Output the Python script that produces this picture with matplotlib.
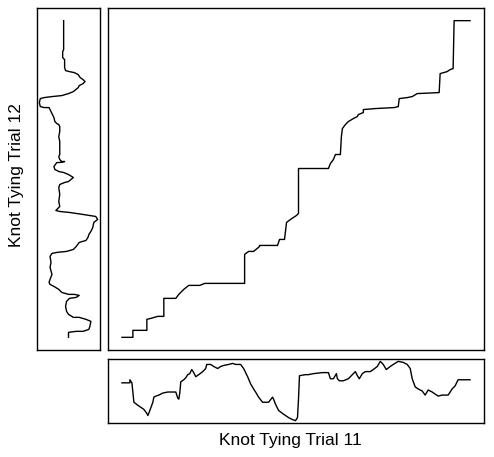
import numpy as np
import matplotlib.pyplot as plt

# Trial 11 signal (sample index, value)
t11_idx = [0, 8, 8, 10, 12, 16, 19, 22, 25, 26, 28, 31, 32, 34, 37, 41, 46, 54, 56, 57,
           58, 59, 62, 64, 66, 68, 70, 72, 74, 77, 81, 84, 85, 89, 92, 96, 99, 102, 107, 111,
           114, 119, 122, 126, 129, 132, 134, 137, 141, 144, 147, 151, 152, 154, 157, 161, 164, 167, 171, 174,
           176, 177, 178, 184, 187, 192, 201, 207, 209, 212, 215, 216, 218, 222, 227, 231, 234, 236, 238, 241,
           244, 249, 252, 256, 259, 262, 265, 269, 272, 277, 282, 286, 289, 291, 294, 297, 301, 304, 307, 311,
           314, 317, 321, 324, 327, 331, 334, 337, 342, 349]
t11_val = [39, 39, 42, 39, 20, 17, 15, 13, 9, 7, 12, 20, 25, 26, 27, 29, 30, 30, 24, 23,
           29, 40, 42, 44, 47, 48, 52, 49, 45, 47, 50, 53, 57, 57, 55, 53, 55, 56, 57, 58,
           57, 57, 53, 45, 38, 33, 30, 25, 20, 20, 20, 25, 23, 18, 12, 9, 7, 5, 3, 2,
           5, 23, 46, 47, 47, 48, 49, 49, 43, 43, 48, 43, 41, 41, 43, 47, 50, 46, 43, 48,
           50, 50, 52, 55, 60, 57, 52, 55, 57, 60, 59, 57, 53, 43, 35, 33, 31, 27, 32, 30,
           28, 26, 27, 27, 27, 33, 36, 42, 42, 42]

# Trial 12 signal (sample index, value)
t12_idx = [317, 288, 286, 280, 278, 270, 267, 266, 265, 263, 260, 258, 256, 254, 252, 250, 246, 244, 242, 241,
           240, 239, 235, 231, 230, 230, 228, 224, 220, 216, 214, 213, 211, 206, 201, 196, 190, 183, 181, 178,
           176, 176, 175, 175, 171, 168, 166, 165, 163, 160, 156, 155, 153, 150, 143, 136, 131, 129, 127, 126,
           125, 123, 121, 118, 115, 110, 106, 103, 100, 97, 95, 91, 88, 86, 85, 84, 81, 75, 70, 63,
           58, 55, 53, 51, 48, 45, 43, 43, 42, 40, 39, 36, 31, 26, 23, 20, 20, 18, 16, 11,
           8, 6, 6, 5, 0]
t12_val = [27, 27, 26, 26, 28, 28, 29, 33, 38, 42, 44, 47, 49, 47, 43, 42, 37, 32, 25, 15,
           7, 3, 2, 3, 7, 12, 13, 15, 17, 18, 20, 22, 23, 23, 22, 23, 23, 23, 22, 23,
           25, 28, 23, 20, 17, 18, 22, 27, 32, 37, 32, 28, 23, 22, 23, 22, 23, 21, 19, 23,
           33, 47, 60, 62, 58, 57, 55, 53, 52, 50, 43, 40, 37, 30, 20, 15, 13, 14, 13, 15,
           13, 12, 13, 17, 22, 25, 32, 38, 43, 40, 33, 30, 29, 30, 32, 37, 43, 50, 55, 54,
           53, 47, 40, 32, 32]

# warping path (trial 11 index, trial 12 index)
path_i = [0, 11, 11, 25, 25, 29, 36, 42, 42, 54, 57, 62, 67, 78, 83, 123, 123, 127, 132, 138,
          138, 156, 158, 163, 165, 169, 175, 177, 177, 207, 209, 212, 214, 219, 220, 221, 224, 227, 232, 236,
          237, 242, 242, 254, 273, 277, 278, 286, 291, 296, 318, 319, 326, 329, 332, 333, 349]
path_j = [0, 0, 7, 7, 18, 19, 21, 21, 39, 39, 43, 48, 52, 52, 54, 54, 83, 86, 86, 91,
          92, 92, 98, 98, 115, 118, 122, 124, 169, 169, 174, 178, 183, 183, 201, 209, 213, 216, 219, 221,
          223, 225, 228, 229, 230, 231, 239, 240, 241, 244, 245, 264, 266, 268, 269, 317, 317]

W, H = 494, 457
fig = plt.figure(figsize=(W / 100, H / 100), dpi=100)


def rect(x0, y0, x1, y1):
    # pixel box (top-left origin) -> figure fraction
    return [x0 / W, 1 - y1 / H, (x1 - x0) / W, (y1 - y0) / H]


ax_left = fig.add_axes(rect(37, 8, 100, 350))
ax_main = fig.add_axes(rect(108, 8, 484, 350))
ax_bot = fig.add_axes(rect(108, 359, 484, 423))

lw = 1.0
ax_main.plot(path_i, path_j, color="black", lw=lw)
ax_bot.plot(t11_idx, t11_val, color="black", lw=lw)
ax_left.plot(t12_val, t12_idx, color="black", lw=lw)

for ax in (ax_left, ax_main, ax_bot):
    ax.margins(0.04)
    ax.set_xticks([])
    ax.set_yticks([])
    for s in ax.spines.values():
        s.set_linewidth(1.0)
        s.set_color("black")

ax_bot.set_xlim(ax_main.get_xlim())
ax_left.set_ylim(ax_main.get_ylim())

fig.text(290 / W, 1 - 441 / H, "Knot Tying Trial 11", ha="center", va="center",
         fontsize=12.5, family="Liberation Sans")
fig.text(17 / W, 1 - 175 / H, "Knot Tying Trial 12", ha="center", va="center",
         rotation=90, fontsize=12.5, family="Liberation Sans")

fig.savefig("out.png", dpi=100)
